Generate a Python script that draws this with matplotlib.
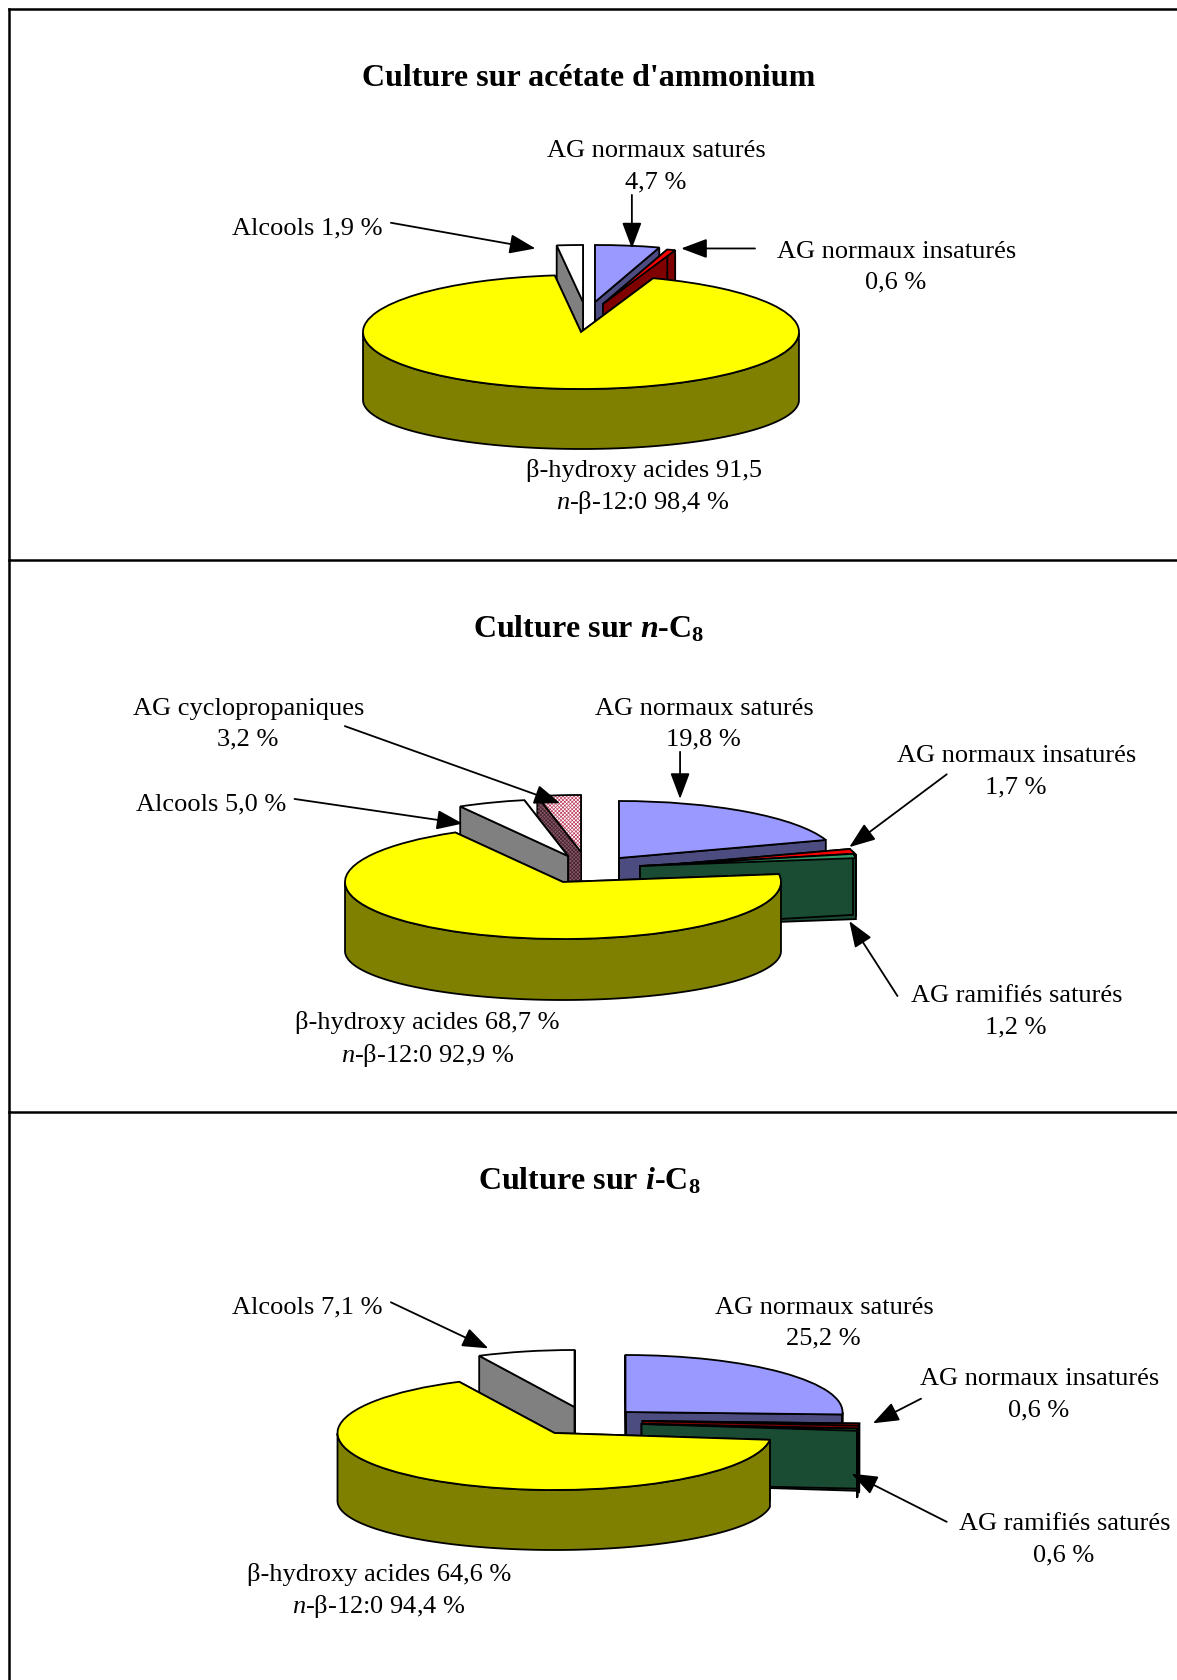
import numpy as np
import matplotlib
matplotlib.use("Agg")
import matplotlib.pyplot as plt
from matplotlib.patches import Wedge

plt.rcParams['font.family'] = ['Liberation Serif', 'DejaVu Sans']
plt.rcParams['mathtext.fontset'] = 'custom'
plt.rcParams['mathtext.rm'] = 'Liberation Serif'
plt.rcParams['mathtext.it'] = 'Liberation Serif:italic'
plt.rcParams['mathtext.bf'] = 'Liberation Serif:bold'
plt.rcParams['mathtext.bfit'] = 'Liberation Serif:italic:bold'
plt.rcParams['hatch.linewidth'] = 0.5

# data, slices clockwise from 12 o'clock
acetate_names = ['sat', 'insat', 'hydroxy', 'alcools']
acetate_values = [4.7, 0.6, 91.5, 1.9]
n_c8_names = ['sat', 'insat', 'ram', 'hydroxy', 'alcools', 'cyclo']
n_c8_values = [19.8, 1.7, 1.2, 68.7, 5.0, 3.2]
i_c8_names = ['sat', 'insat', 'ram', 'hydroxy', 'alcools']
i_c8_values = [25.2, 0.6, 0.6, 64.6, 7.1]

# style
TOP = {'sat': '#9999FF', 'insat': '#FF0000', 'ram': '#339966',
       'hydroxy': '#FFFF00', 'alcools': '#FFFFFF', 'cyclo': '#FFFFFF'}
SIDE = {'sat': '#4C4C80', 'insat': '#800000', 'ram': '#1A4C33',
        'hydroxy': '#808000', 'alcools': '#808080', 'cyclo': '#8A5A6A'}
LW = 1.3

W, H = 1177, 1680
S = 1177 / 1099  # annotation positions below were measured on the 1099 wide view

fig = plt.figure(figsize=(W / 100, H / 100), dpi=100)


def draw_pie(names, values, cx, cy, rx, ry, h_mid, offsets, order):
    # each pie gets its own axes, stretched so the circle becomes an ellipse
    ax = fig.add_axes([(cx - 2 * rx) / W, 1 - (cy + 2.5 * ry) / H, 4 * rx / W, 5 * ry / H])
    colors = [TOP[n] for n in names]
    wedges, _ = ax.pie(values, startangle=90, counterclock=False, colors=colors,
                       wedgeprops={'edgecolor': 'black', 'linewidth': LW})
    ax.set_aspect('auto')
    ax.set_xlim(-2, 2)
    ax.set_ylim(-2.5, 2.5)
    ax.patch.set_alpha(0)
    d = h_mid / ry
    sag = 8 / ry  # the base ellipse is a bit flatter than the top one
    for name, w in zip(names, wedges):
        dx, dy = offsets.get(name, (0, 0))
        c = np.array([dx / rx, -dy / ry])
        w.set_center(tuple(c))
        z = order.index(name) * 2 + 2
        w.set_zorder(z + 1)
        t = np.radians(np.linspace(w.theta1, w.theta2, 200))
        xs, ys = c[0] + np.cos(t), c[1] + np.sin(t)
        kw = dict(facecolor=SIDE[name], edgecolor='black', linewidth=LW, zorder=z)
        # the two cut faces
        for i in (0, -1):
            ax.fill([c[0], xs[i], xs[i], c[0]], [c[1], ys[i], ys[i] - d, c[1] - d], **kw)
        # the rim, only where it faces the viewer
        front = np.sin(t) < 0
        if front.any():
            low = ys[front] - d - sag * (1 + np.sin(t[front]))
            ax.fill(np.r_[xs[front], xs[front][::-1]], np.r_[ys[front], low[::-1]], **kw)
        if name == 'cyclo':
            w.set_facecolor('#FFFFFF')
            w.set_edgecolor('#C04060')
            w.set_hatch('xxxxxxxxx')
            w.set_linewidth(0)
            ax.add_patch(Wedge(w.center, 1, w.theta1, w.theta2, fill=False,
                               edgecolor='black', linewidth=LW, zorder=z + 1))
            for i in (0, -1):
                ax.fill([c[0], xs[i], xs[i], c[0]], [c[1], ys[i], ys[i] - d, c[1] - d],
                        facecolor='none', edgecolor='#40202A', hatch='xxxxxxxxx',
                        linewidth=0, zorder=z)


draw_pie(acetate_names, acetate_values, 581, 332, 218, 57, 60,
         {'sat': (14, -30), 'insat': (22, -28), 'alcools': (2, -30)},
         ['alcools', 'sat', 'insat', 'hydroxy'])
draw_pie(n_c8_names, n_c8_values, 563, 882, 218, 57, 61,
         {'sat': (56, -24), 'insat': (80, -15), 'ram': (77, -16), 'alcools': (5, -26), 'cyclo': (18, -30)},
         ['cyclo', 'alcools', 'sat', 'insat', 'ram', 'hydroxy'])
draw_pie(i_c8_names, i_c8_values, 554.5, 1433, 217, 57, 60,
         {'sat': (71, -21), 'insat': (88, -12), 'ram': (87, -9), 'alcools': (20, -26)},
         ['alcools', 'sat', 'insat', 'ram', 'hydroxy'])

# overlay in reference pixels: frame, titles, labels, arrows
top = fig.add_axes([0, 0, 1, 1], zorder=10)
top.set_xlim(0, W)
top.set_ylim(H, 0)
top.axis('off')

top.plot([9, 9], [9, H], color='black', lw=1.8)
for y in (9, 560, 1112):
    top.plot([9, W], [y, y], color='black', lw=1.8)

titles = [("Culture sur acétate d'ammonium", 550, 73),
          (r"Culture sur $\mathbfit{n}$-C$_{\mathbf{8}}$", 550, 588),
          (r"Culture sur $\mathbfit{i}$-C$_{\mathbf{8}}$", 550, 1103)]
for txt, x, y in titles:
    top.text(x * S, y * S, txt, ha='center', va='center', fontsize=23, fontweight='bold')

labels = [('AG normaux saturés', 613, 141), ('4,7 %', 612, 170),
          ('Alcools 1,9 %', 287, 213),
          ('AG normaux insaturés', 837, 235), ('0,6 %', 836, 264),
          ('β-hydroxy acides 91,5', 601, 439), (r'$\mathit{n}$-β-12:0 98,4 %', 600, 469),
          ('AG cyclopropaniques', 232, 662), ('3,2 %', 231, 690),
          ('AG normaux saturés', 658, 662), ('19,8 %', 657, 690),
          ('AG normaux insaturés', 949, 706), ('1,7 %', 948, 735),
          ('Alcools 5,0 %', 197, 751),
          ('AG ramifiés saturés', 949, 930), ('1,2 %', 948, 959),
          ('β-hydroxy acides 68,7 %', 399, 955), (r'$\mathit{n}$-β-12:0 92,9 %', 399, 986),
          ('Alcools 7,1 %', 287, 1221),
          ('AG normaux saturés', 770, 1221), ('25,2 %', 769, 1250),
          ('AG normaux insaturés', 971, 1288), ('0,6 %', 970, 1317),
          ('AG ramifiés saturés', 994, 1423), ('0,6 %', 993, 1452),
          ('β-hydroxy acides 64,6 %', 354, 1470), (r'$\mathit{n}$-β-12:0 94,4 %', 354, 1500)]
for txt, x, y in labels:
    top.text(x * S, y * S, txt, ha='center', va='center', fontsize=19)

arrows = [((590, 182), (590, 232)), ((365, 208), (500, 232)), ((705, 232), (636, 232)),
          ((635, 702), (635, 746)), ((322, 678), (523, 750)), ((275, 746), (432, 769)),
          ((884, 723), (793, 791)), ((838, 930), (793, 860)),
          ((365, 1216), (456, 1259)), ((860, 1306), (815, 1329)), ((884, 1421), (795, 1376))]
for (x0, y0), (x1, y1) in arrows:
    top.annotate('', xy=(x1 * S, y1 * S), xytext=(x0 * S, y0 * S),
                 arrowprops=dict(arrowstyle='-|>,head_length=0.8,head_width=0.3', color='black',
                                 lw=1.3, shrinkA=0, shrinkB=0, mutation_scale=20))

fig.savefig('out.png', dpi=100)
